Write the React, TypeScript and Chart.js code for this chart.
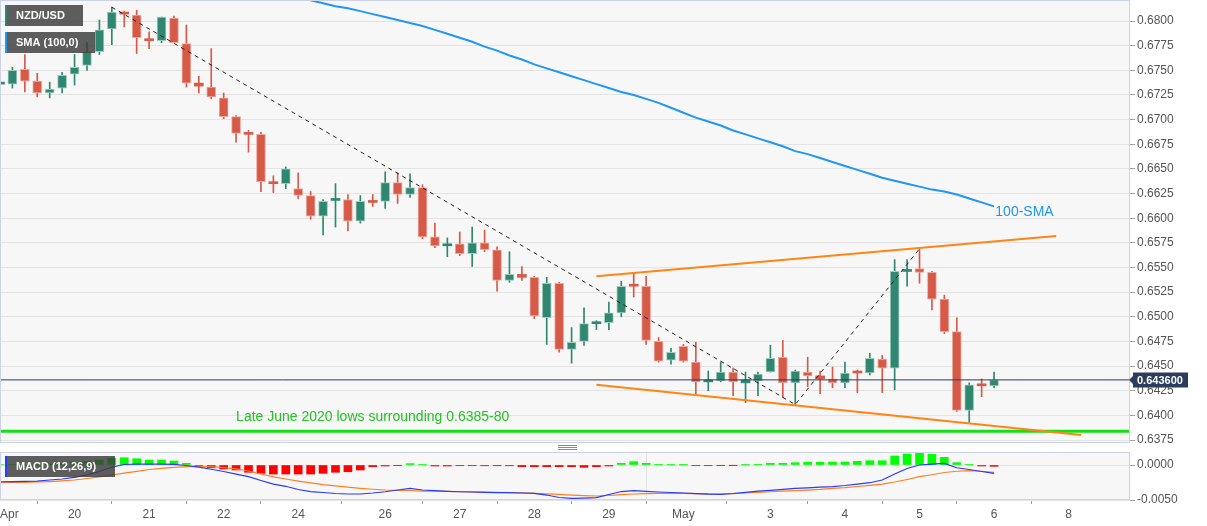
import { useEffect, useRef } from 'react';
import { Chart, registerables } from 'chart.js';

Chart.register(...registerables);

const FONT = 'Arial, "Liberation Sans", sans-serif';

// NZD/USD 4-hour candles, index 0 = first bar on screen
const opens = [
  0.6736, 0.6736, 0.6751, 0.6739, 0.6727, 0.6732, 0.6746, 0.6755, 0.6769, 0.6792,
  0.6809, 0.6806, 0.6782, 0.678, 0.6803, 0.6777, 0.6737, 0.6733, 0.6722, 0.6703,
  0.6687, 0.6685, 0.6637, 0.6635, 0.663, 0.6623, 0.6602, 0.6618, 0.6619, 0.6597,
  0.6618, 0.6617, 0.6636, 0.6624, 0.6631, 0.6581, 0.6572, 0.6574, 0.6564, 0.6575,
  0.6568, 0.6537, 0.6543, 0.654, 0.6499, 0.6534, 0.6467, 0.6475, 0.6493, 0.6494,
  0.6504, 0.6532, 0.6531, 0.6475, 0.6456, 0.647, 0.6454, 0.6434, 0.6435, 0.6444,
  0.6433, 0.6435, 0.6444, 0.6459, 0.6433, 0.6444, 0.644, 0.6437, 0.6433, 0.6445,
  0.6443, 0.6457, 0.6448, 0.6546, 0.6549, 0.6545, 0.6518, 0.6485, 0.6405, 0.6431,
  0.643,
];
const highs = [
  0.674, 0.6753, 0.6766, 0.6747, 0.6738, 0.6748, 0.6766, 0.6778, 0.6801, 0.6814,
  0.681, 0.6811, 0.6789, 0.6804, 0.6805, 0.6796, 0.6744, 0.6772, 0.6727, 0.6704,
  0.6689, 0.6687, 0.6643, 0.6652, 0.6646, 0.6627, 0.6619, 0.6635, 0.6624, 0.6623,
  0.6624, 0.6647, 0.6646, 0.6645, 0.6634, 0.6595, 0.658, 0.6586, 0.6591, 0.6588,
  0.6571, 0.6566, 0.6551, 0.6541, 0.654, 0.6535, 0.6489, 0.6509, 0.6496, 0.6515,
  0.6536, 0.6544, 0.6541, 0.6479, 0.6468, 0.6472, 0.6474, 0.6445, 0.6454, 0.6448,
  0.6444, 0.6444, 0.6471, 0.6476, 0.6446, 0.6459, 0.6445, 0.6449, 0.6454, 0.6446,
  0.6463, 0.6461, 0.6558, 0.6558, 0.6569, 0.6546, 0.6522, 0.6499, 0.6433, 0.6437,
  0.6444,
];
const lows = [
  0.672, 0.6732, 0.6728, 0.6723, 0.6722, 0.6727, 0.6735, 0.675, 0.6766, 0.6776,
  0.6794, 0.6767, 0.6772, 0.6778, 0.6778, 0.6733, 0.6727, 0.6721, 0.6701, 0.6677,
  0.6667, 0.6627, 0.6626, 0.663, 0.662, 0.6599, 0.6583, 0.6591, 0.6587, 0.6595,
  0.6612, 0.661, 0.6615, 0.6621, 0.6579, 0.657, 0.6561, 0.6562, 0.6551, 0.6566,
  0.6526, 0.6535, 0.6537, 0.6498, 0.6472, 0.6464, 0.6453, 0.6471, 0.6487, 0.6487,
  0.65, 0.652, 0.6472, 0.6454, 0.6452, 0.6454, 0.6422, 0.6425, 0.6434, 0.642,
  0.6413, 0.642, 0.6444, 0.6418, 0.6411, 0.6429, 0.6422, 0.6428, 0.6428, 0.6423,
  0.6441, 0.6423, 0.6426, 0.6531, 0.6534, 0.6507, 0.6483, 0.6404, 0.6393, 0.6419,
  0.6428,
];
const closes = [
  0.6738, 0.675, 0.6739, 0.6727, 0.6731, 0.6745, 0.6753, 0.6769, 0.6791, 0.6809,
  0.6807, 0.6783, 0.678, 0.6804, 0.6778, 0.6737, 0.6734, 0.6723, 0.6703, 0.6686,
  0.6685, 0.6637, 0.6635, 0.665, 0.6623, 0.6602, 0.6617, 0.6619, 0.6597, 0.6617,
  0.6616, 0.6636, 0.6624, 0.6631, 0.6581, 0.6572, 0.6574, 0.6564, 0.6575, 0.6568,
  0.6537, 0.6543, 0.654, 0.6501, 0.6534, 0.6467, 0.6474, 0.6493, 0.6494, 0.6504,
  0.6531, 0.6531, 0.6476, 0.6455, 0.6464, 0.6455, 0.6434, 0.6435, 0.6444, 0.6434,
  0.6436, 0.6442, 0.6458, 0.6433, 0.6445, 0.644, 0.6437, 0.6433, 0.6443, 0.6443,
  0.6458, 0.6448, 0.6546, 0.6548, 0.6545, 0.6518, 0.6485, 0.6405, 0.6431, 0.643,
  0.6436,
];

// 100-period simple moving average, first value belongs to candle SMA_START
const SMA_START = 24;
const sma100 = [
  0.6824, 0.6821, 0.6818, 0.6815, 0.6813, 0.681, 0.6807, 0.6804, 0.6801, 0.6798,
  0.6795, 0.6791, 0.6787, 0.6783, 0.6779, 0.6774, 0.677, 0.6765, 0.6761, 0.6756,
  0.6752, 0.6748, 0.6744, 0.674, 0.6736, 0.6732, 0.6728, 0.6725, 0.6721, 0.6717,
  0.6712, 0.6707, 0.6702, 0.6698, 0.6694, 0.6689, 0.6685, 0.6681, 0.6677, 0.6673,
  0.6668, 0.6665, 0.6661, 0.6657, 0.6653, 0.6649, 0.6645, 0.6641, 0.6638, 0.6635,
  0.6632, 0.6629, 0.6627, 0.6624, 0.662, 0.6616, 0.6612,
];

// MACD (12,26,9)
const macdLine = [
  -0.00239, -0.00236, -0.00233, -0.00229, -0.00214, -0.002, -0.00176, -0.00143, -0.00093, -0.00029,
  0.00007, 0.00014, 0.00014, 0.00014, 0.0001, -0.00007, -0.00029, -0.00061, -0.00093, -0.00129,
  -0.00167, -0.00221, -0.00272, -0.00304, -0.0035, -0.00379, -0.00393, -0.00407, -0.00414, -0.00414,
  -0.004, -0.00382, -0.00357, -0.00333, -0.00357, -0.00367, -0.00376, -0.00382, -0.00386, -0.0039,
  -0.00396, -0.00396, -0.004, -0.00404, -0.00429, -0.00464, -0.00476, -0.00472, -0.00467, -0.00422,
  -0.00379, -0.00367, -0.00376, -0.00386, -0.00393, -0.004, -0.0041, -0.00417, -0.00419, -0.00407,
  -0.0039, -0.00374, -0.00362, -0.00347, -0.00333, -0.00326, -0.00317, -0.0031, -0.00293, -0.00272,
  -0.00253, -0.00214, -0.00129, -0.0005, 0.0, 0.00014, 0.00024, -0.00039, -0.00064, -0.00093,
  -0.00119,
];
const signalLine = [
  -0.00253, -0.0025, -0.00247, -0.00243, -0.00236, -0.00226, -0.00214, -0.00193, -0.00169, -0.00143,
  -0.00117, -0.0009, -0.00064, -0.00047, -0.00033, -0.00024, -0.00021, -0.00024, -0.00036, -0.00054,
  -0.00086, -0.00129, -0.00169, -0.002, -0.00229, -0.00254, -0.00279, -0.00297, -0.00317, -0.00333,
  -0.00346, -0.00357, -0.00362, -0.00364, -0.00372, -0.00374, -0.00377, -0.00382, -0.00384, -0.00387,
  -0.0039, -0.00394, -0.00398, -0.00404, -0.00412, -0.0042, -0.00429, -0.00437, -0.00443, -0.00436,
  -0.00424, -0.00414, -0.00409, -0.00406, -0.00404, -0.00406, -0.00409, -0.00413, -0.00414, -0.0041,
  -0.004, -0.0039, -0.00382, -0.00374, -0.00367, -0.00359, -0.00349, -0.00333, -0.00322, -0.00307,
  -0.0029, -0.00272, -0.00243, -0.00207, -0.00167, -0.00139, -0.00107, -0.00089, -0.00081, -0.00089,
  -0.00104,
];
const macdHist = [
  0.00007, 0.00007, 0.0001, 0.00011, 0.00014, 0.00021, 0.00036, 0.0005, 0.00071, 0.00096,
  0.00104, 0.0009, 0.00071, 0.00071, 0.00057, 0.00024, -0.00007, -0.00039, -0.00057, -0.00071,
  -0.00104, -0.00119, -0.00129, -0.00129, -0.00129, -0.00129, -0.00119, -0.00104, -0.00096, -0.00071,
  -0.00024, -0.00014, -0.00004, 0.00019, 0.00004, -0.00014, -0.00014, -0.0001, -0.0001, -0.00011,
  -0.00011, -0.00011, -0.00024, -0.00024, -0.00024, -0.00024, -0.00024, -0.00033, -0.00024, -0.00014,
  0.00024, 0.00047, 0.00024, 0.0001, 0.00003, 0.00001, -0.0001, -0.0001, -0.00004, -0.00003,
  0.00001, 0.0001, 0.00024, 0.00024, 0.00033, 0.00039, 0.00039, 0.00043, 0.00043, 0.00053,
  0.00061, 0.00061, 0.00129, 0.00157, 0.00167, 0.00153, 0.0011, 0.00033, 0.00003, -0.00014,
  -0.00019,
];

// Trend lines: [candle index, price]
const fallingTrend = [[9, 0.6814], [64, 0.6411], [74, 0.6569]];
const channelTop = [[48, 0.6541], [85, 0.6582]];
const channelBottom = [[48, 0.6431], [87, 0.638]];
const juneLowLevel = 0.6384;

// Axis ticks and labels
const priceTicks = [
  0.6375, 0.64, 0.6425, 0.645, 0.6475, 0.65, 0.6525, 0.655, 0.6575,
  0.66, 0.6625, 0.665, 0.6675, 0.67, 0.6725, 0.675, 0.6775, 0.68,
];
const macdTicks = [-0.005, 0];
const dayTickIndex = [0, 6, 12, 18, 24, 31, 37, 43, 49, 55, 62, 68, 74, 80, 86];
const dayTickLabels = ['Apr', '20', '21', '22', '24', '26', '27', '28', '29', 'May', '3', '4', '5', '6', '8'];
const MONTH_START = 55;

const X_MIN = 0;
const X_MAX = 90.94;
const PRICE_MIN = 0.6372;
const PRICE_MAX = 0.68213;
const MACD_MIN = -0.005;
const MACD_MAX = 0.00186;

const UP = '#2f8770';
const UP_EDGE = '#a3cbbf';
const DOWN = '#d65a48';
const DOWN_EDGE = '#efaaa0';
const GRID = '#e3e3e3';
const FRAME = '#cdd3e6';
const AXIS_TEXT = '#555';

const toXY = (pts: number[][]) => pts.map(([x, y]) => ({ x, y }));

// value axes: fixed width, no extra room reserved for half-height end labels
const fitValueAxis = (s: any) => {
  s.width = 77;
  s.paddingTop = 0;
  s.paddingBottom = 0;
};

const paneFrame = {
  id: 'paneFrame',
  beforeDraw(chart: any) {
    const { ctx, chartArea: a } = chart;
    ctx.save();
    ctx.fillStyle = '#f7f7f7';
    ctx.fillRect(a.left, a.top, a.right - a.left, a.bottom - a.top);
    ctx.restore();
  },
  afterDraw(chart: any) {
    const { ctx, chartArea: a } = chart;
    ctx.save();
    ctx.strokeStyle = FRAME;
    ctx.lineWidth = 1;
    ctx.strokeRect(a.left + 0.5, a.top + 0.5, a.right - a.left - 1, a.bottom - a.top - 1);
    ctx.restore();
  },
};

function legendTag(ctx: any, x: number, y: number, w: number, h: number, stripe: string, text: string) {
  ctx.fillStyle = 'rgba(58,58,58,0.82)';
  ctx.fillRect(x, y, w, h);
  ctx.fillStyle = stripe;
  ctx.fillRect(x, y, 2, h);
  ctx.fillStyle = '#fff';
  ctx.font = `bold 11px ${FONT}`;
  ctx.textAlign = 'left';
  ctx.textBaseline = 'middle';
  ctx.fillText(text, x + 11, y + h / 2 + 0.5);
}

const priceOverlay = {
  id: 'priceOverlay',
  afterDraw(chart: any) {
    const { ctx, chartArea: a } = chart;
    const xs = chart.scales.x;
    const ys = chart.scales.y;
    ctx.save();

    // annotations
    ctx.font = `14px ${FONT}`;
    ctx.textAlign = 'left';
    ctx.textBaseline = 'middle';
    ctx.fillStyle = '#25c225';
    ctx.fillText('Late June 2020 lows surrounding 0.6385-80', xs.getPixelForValue(19), ys.getPixelForValue(0.63985));
    ctx.fillStyle = '#2196f3';
    ctx.fillText('100-SMA', xs.getPixelForValue(80.1), ys.getPixelForValue(0.6606));

    // legend tags
    legendTag(ctx, a.left + 5, a.top + 5, 78, 21, UP, 'NZD/USD');
    legendTag(ctx, a.left + 5, a.top + 32, 90, 21, '#2196f3', 'SMA (100,0)');

    // last price tag on the axis
    const last = closes[closes.length - 1];
    const yc = Math.round(ys.getPixelForValue(last));
    const bx = a.right + 3;
    ctx.fillStyle = '#2b3d5b';
    ctx.beginPath();
    ctx.moveTo(a.right - 1, yc);
    ctx.lineTo(bx, yc - 4);
    ctx.lineTo(bx, yc - 7.5);
    ctx.lineTo(bx + 55, yc - 7.5);
    ctx.lineTo(bx + 55, yc + 7.5);
    ctx.lineTo(bx, yc + 7.5);
    ctx.lineTo(bx, yc + 4);
    ctx.closePath();
    ctx.fill();
    ctx.fillStyle = '#fff';
    ctx.font = `bold 11px ${FONT}`;
    ctx.fillText(last.toFixed(6), bx + 4, yc + 0.5);

    // pane resize handle
    ctx.strokeStyle = '#8a8a8a';
    ctx.lineWidth = 1;
    for (let k = 0; k < 3; k++) {
      const y = a.bottom + 2.5 + k * 2;
      ctx.beginPath();
      ctx.moveTo(558, y);
      ctx.lineTo(577, y);
      ctx.stroke();
    }
    ctx.restore();
  },
};

const macdOverlay = {
  id: 'macdOverlay',
  afterDraw(chart: any) {
    const { ctx, chartArea: a } = chart;
    ctx.save();
    legendTag(ctx, a.left + 5, a.top + 4, 110, 21, '#2040ff', 'MACD (12,26,9)');
    ctx.restore();
  },
};

const candleColor = (ctx: any) => (closes[ctx.dataIndex] >= opens[ctx.dataIndex] ? UP : DOWN);
const candleEdge = (ctx: any) => (closes[ctx.dataIndex] >= opens[ctx.dataIndex] ? UP_EDGE : DOWN_EDGE);

function priceConfig(): any {
  return {
    type: 'bar',
    data: {
      datasets: [
        {
          type: 'line',
          data: [{ x: X_MIN, y: juneLowLevel }, { x: X_MAX, y: juneLowLevel }],
          borderColor: '#14e014',
          borderWidth: 3,
          pointRadius: 0,
          clip: 0,
          order: 6,
        },
        {
          type: 'bar',
          data: opens.map((_, i) => ({ x: i, y: [lows[i], highs[i]] })),
          backgroundColor: candleColor,
          borderWidth: 0,
          barThickness: 1,
          grouped: false,
          clip: 0,
          order: 5,
        },
        {
          type: 'bar',
          data: opens.map((o, i) => ({ x: i, y: [o, closes[i]] })),
          backgroundColor: candleColor,
          borderColor: candleEdge,
          borderWidth: (ctx: any) => (Math.abs(closes[ctx.dataIndex] - opens[ctx.dataIndex]) < 0.0003 ? 0 : 1),
          borderSkipped: false,
          barThickness: 9,
          minBarLength: 2,
          grouped: false,
          clip: 0,
          order: 4,
        },
        {
          type: 'line',
          data: sma100.map((v, k) => ({ x: SMA_START + k, y: v })),
          borderColor: '#2196f3',
          borderWidth: 2,
          pointRadius: 0,
          clip: 0,
          order: 3,
        },
        {
          type: 'line',
          data: toXY(channelTop),
          borderColor: '#ff8514',
          borderWidth: 2,
          pointRadius: 0,
          clip: 0,
          order: 2,
        },
        {
          type: 'line',
          data: toXY(channelBottom),
          borderColor: '#ff8514',
          borderWidth: 2,
          pointRadius: 0,
          clip: 0,
          order: 2,
        },
        {
          type: 'line',
          data: toXY(fallingTrend),
          borderColor: '#222',
          borderWidth: 1,
          borderDash: [4, 4],
          pointRadius: 0,
          clip: 0,
          order: 1,
        },
        {
          type: 'line',
          data: [{ x: X_MIN, y: closes[closes.length - 1] }, { x: X_MAX, y: closes[closes.length - 1] }],
          borderColor: '#2c3e5c',
          borderWidth: 1,
          pointRadius: 0,
          clip: 0,
          order: 0,
        },
      ],
    },
    options: {
      animation: false,
      responsive: false,
      events: [],
      layout: { padding: { left: 0, right: 0, top: 0, bottom: 8 } },
      plugins: { legend: { display: false }, tooltip: { enabled: false } },
      scales: {
        x: {
          type: 'linear',
          min: X_MIN,
          max: X_MAX,
          offset: false,
          afterBuildTicks: (s: any) => {
            s.ticks = [{ value: MONTH_START }];
          },
          ticks: { display: false },
          grid: { color: GRID, drawTicks: false },
          border: { display: false },
          afterFit: (s: any) => {
            s.height = 0;
            s.paddingLeft = 0;
            s.paddingRight = 0;
          },
        },
        y: {
          type: 'linear',
          position: 'right',
          min: PRICE_MIN,
          max: PRICE_MAX,
          afterBuildTicks: (s: any) => {
            s.ticks = priceTicks.map((v) => ({ value: v }));
          },
          ticks: {
            color: AXIS_TEXT,
            font: { family: FONT, size: 12 },
            padding: 2,
            autoSkip: false,
            callback: (v: any) => Number(v).toFixed(4),
          },
          grid: { color: GRID, tickColor: '#a0a0a0', tickLength: 5 },
          border: { display: false },
          afterFit: fitValueAxis,
        },
      },
    },
    plugins: [paneFrame, priceOverlay],
  };
}

function macdConfig(): any {
  return {
    type: 'bar',
    data: {
      datasets: [
        {
          type: 'line',
          data: macdLine.map((v, i) => ({ x: i, y: v })),
          borderColor: '#2a3cf5',
          borderWidth: 1.2,
          pointRadius: 0,
          clip: 0,
          order: 1,
        },
        {
          type: 'line',
          data: signalLine.map((v, i) => ({ x: i, y: v })),
          borderColor: '#ff7f24',
          borderWidth: 1.2,
          pointRadius: 0,
          clip: 0,
          order: 2,
        },
        {
          type: 'bar',
          data: macdHist.map((v, i) => ({ x: i, y: v })),
          backgroundColor: (ctx: any) => (macdHist[ctx.dataIndex] >= 0 ? '#00ff00' : '#ff0000'),
          barThickness: 8,
          grouped: false,
          clip: 0,
          order: 3,
        },
      ],
    },
    options: {
      animation: false,
      responsive: false,
      events: [],
      layout: { padding: { left: 0, right: 0, top: 1, bottom: 0 } },
      plugins: { legend: { display: false }, tooltip: { enabled: false } },
      scales: {
        x: {
          type: 'linear',
          min: X_MIN,
          max: X_MAX,
          offset: false,
          afterBuildTicks: (s: any) => {
            s.ticks = [...dayTickIndex.map((v) => ({ value: v })), { value: X_MAX }];
          },
          ticks: {
            align: 'inner',
            autoSkip: false,
            maxRotation: 0,
            color: AXIS_TEXT,
            font: { family: FONT, size: 12 },
            padding: 3,
            callback: (v: any) => {
              const k = dayTickIndex.indexOf(Number(v));
              return k >= 0 ? dayTickLabels[k] : '';
            },
          },
          grid: {
            color: (c: any) => (c.tick && c.tick.value === MONTH_START ? GRID : 'rgba(0,0,0,0)'),
            tickColor: (c: any) => (c.tick && c.tick.value === X_MAX ? 'rgba(0,0,0,0)' : '#a0a0a0'),
            tickLength: 4,
          },
          border: { display: false },
          afterFit: (s: any) => {
            s.height = 26;
            s.paddingLeft = 0;
            s.paddingRight = 0;
          },
        },
        y: {
          type: 'linear',
          position: 'right',
          min: MACD_MIN,
          max: MACD_MAX,
          afterBuildTicks: (s: any) => {
            s.ticks = macdTicks.map((v) => ({ value: v }));
          },
          ticks: {
            color: AXIS_TEXT,
            font: { family: FONT, size: 12 },
            padding: 2,
            autoSkip: false,
            callback: (v: any) => Number(v).toFixed(4),
          },
          grid: { color: GRID, tickColor: '#a0a0a0', tickLength: 5 },
          border: { display: false },
          afterFit: fitValueAxis,
        },
      },
    },
    plugins: [paneFrame, macdOverlay],
  };
}

export default function App() {
  const priceRef = useRef<HTMLCanvasElement>(null);
  const macdRef = useRef<HTMLCanvasElement>(null);

  useEffect(() => {
    const price = new Chart(priceRef.current as HTMLCanvasElement, priceConfig());
    const macd = new Chart(macdRef.current as HTMLCanvasElement, macdConfig());
    return () => {
      price.destroy();
      macd.destroy();
    };
  }, []);

  return (
    <div
      style={{
        position: 'absolute',
        left: 0,
        top: 0,
        width: 1207,
        height: 526,
        background: '#fff',
        overflow: 'hidden',
      }}
    >
      <canvas ref={priceRef} width={1207} height={451} style={{ display: 'block', width: 1207, height: 451 }} />
      <canvas ref={macdRef} width={1207} height={75} style={{ display: 'block', width: 1207, height: 75 }} />
    </div>
  );
}
